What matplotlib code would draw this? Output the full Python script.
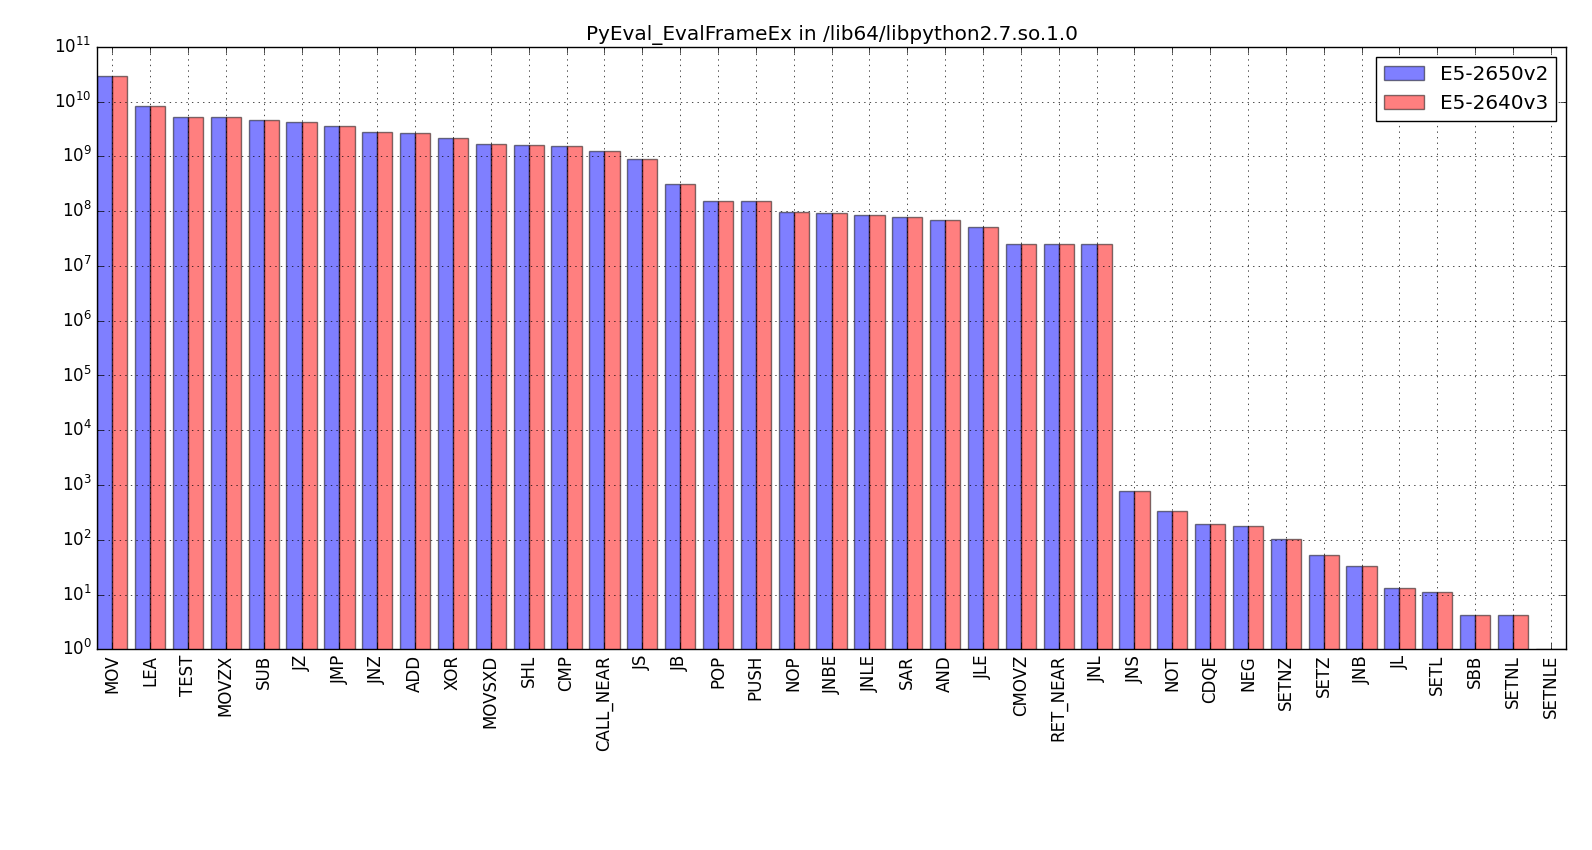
import matplotlib
matplotlib.use('Agg')
import matplotlib.pyplot as plt
import numpy as np

plt.style.use('classic')

instructions = ['MOV', 'LEA', 'TEST', 'MOVZX', 'SUB', 'JZ', 'JMP', 'JNZ', 'ADD',
                'XOR', 'MOVSXD', 'SHL', 'CMP', 'CALL_NEAR', 'JS', 'JB', 'POP',
                'PUSH', 'NOP', 'JNBE', 'JNLE', 'SAR', 'AND', 'JLE', 'CMOVZ',
                'RET_NEAR', 'JNL', 'JNS', 'NOT', 'CDQE', 'NEG', 'SETNZ', 'SETZ',
                'JNB', 'JL', 'SETL', 'SBB', 'SETNL', 'SETNLE']
e5_2650v2 = [2.95e10, 8.3e9, 5.2e9, 5.2e9, 4.7e9, 4.25e9, 3.6e9, 2.8e9, 2.67e9,
             2.16e9, 1.68e9, 1.61e9, 1.55e9, 1.26e9, 8.8e8, 3.06e8, 1.55e8,
             1.55e8, 9.6e7, 9.2e7, 8.4e7, 7.8e7, 6.9e7, 5.1e7, 2.48e7,
             2.48e7, 2.48e7, 768, 333, 194, 178, 104, 53,
             33.6, 13.4, 11.3, 4.2, 4.2, 1]
e5_2640v3 = [2.95e10, 8.3e9, 5.2e9, 5.2e9, 4.7e9, 4.25e9, 3.6e9, 2.8e9, 2.67e9,
             2.16e9, 1.68e9, 1.61e9, 1.55e9, 1.26e9, 8.8e8, 3.06e8, 1.55e8,
             1.55e8, 9.6e7, 9.2e7, 8.4e7, 7.8e7, 6.9e7, 5.1e7, 2.48e7,
             2.48e7, 2.48e7, 768, 333, 194, 178, 104, 53,
             33.6, 13.4, 11.3, 4.2, 4.2, 1]

fig = plt.figure(figsize=(15.92, 8.5), dpi=100)
ax = fig.add_subplot(111)
fig.subplots_adjust(left=0.061, right=0.9837, top=0.945, bottom=0.236)

x = np.arange(len(instructions))
w = 0.4
ax.bar(x - w, e5_2650v2, w, align='edge', color='b', alpha=0.5, log=True,
       label='E5-2650v2')
ax.bar(x, e5_2640v3, w, align='edge', color='r', alpha=0.5, log=True,
       label='E5-2640v3')

ax.set_yscale('log')
ax.set_ylim(1, 1e11)
ax.set_xlim(-0.4, len(instructions) - 1 + 0.4)
ax.set_xticks(x)
ax.set_xticklabels(instructions, rotation=90)
ax.grid(True)
ax.set_title('PyEval_EvalFrameEx in /lib64/libpython2.7.so.1.0')
ax.legend(loc='upper right')

plt.savefig('out.png', dpi=100)
